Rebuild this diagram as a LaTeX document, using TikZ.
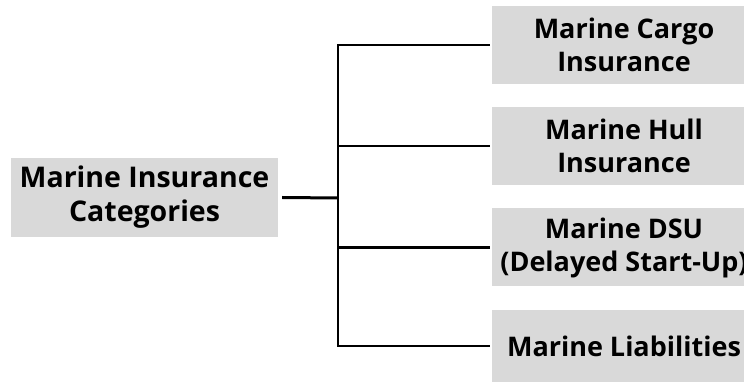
\documentclass[tikz,border=0pt]{standalone}
\usepackage{fontspec}
\setmainfont[Ligatures={NoCommon}]{Open Sans}
\definecolor{boxgray}{HTML}{D9D9D9}
\begin{document}
\begin{tikzpicture}[x=1pt,y=1pt,
  cat/.style={fill=boxgray, draw=none, inner sep=0pt, align=center,
    font=\fontsize{28.5}{34}\selectfont\bfseries, text=black},
  sub/.style={cat, minimum width=264pt, minimum height=78pt,
    font=\fontsize{27}{33}\selectfont\bfseries},
  conn/.style={draw=black, line width=2.4pt}]
\useasboundingbox (0,0) rectangle (744,383);
\clip (0,0) rectangle (744,383);
\node[cat, minimum width=267pt, minimum height=79pt] (root) at (144.5,185.5) {Marine Insurance\\Categories};
\node[sub] (c1) at (624,338) {Marine Cargo\\Insurance};
\node[sub] (c2) at (624,237) {Marine Hull\\Insurance};
\node[sub] (c3) at (624,135.5) {Marine DSU\\(Delayed Start-Up)};
\node[sub, minimum height=72pt] (c4) at (624,37) {Marine Liabilities};
\coordinate (j) at (338,185);
\draw[conn, line width=3pt] ([xshift=4pt]root.east) -- (j);
\draw[conn] (j |- c1.west) -- ([xshift=-2pt]c1.west);
\draw[conn] (j |- c2.west) -- ([xshift=-2pt]c2.west);
\draw[conn] (j |- c3.west) -- ([xshift=-2pt]c3.west);
\draw[conn] (j |- c4.west) -- ([xshift=-2pt]c4.west);
\draw[conn, line cap=rect] (j |- c1.west) -- (j |- c4.west);
\end{tikzpicture}
\end{document}
